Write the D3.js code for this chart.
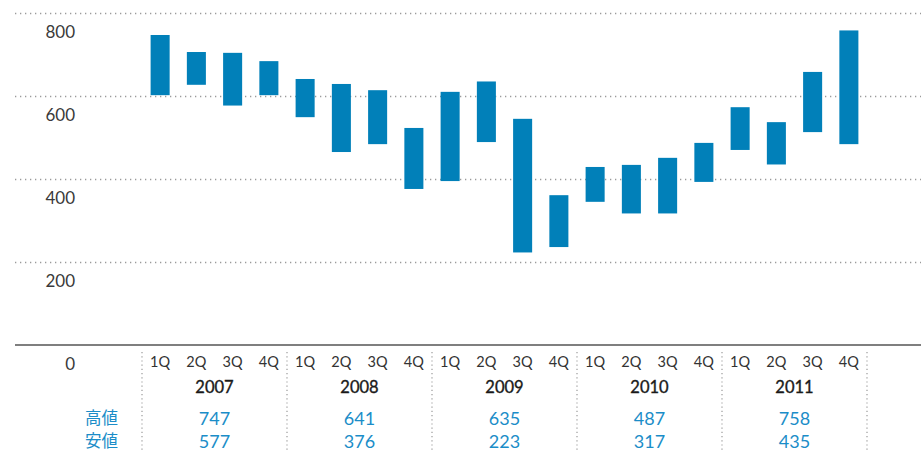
<!DOCTYPE html>
<html>
<head>
<meta charset="utf-8">
<script src="https://d3js.org/d3.v7.min.js"></script>
<style>
body { margin: 0; background: #fff; }
svg { display: block; font-family: "Lato", "Noto Sans CJK JP", sans-serif; }
</style>
</head>
<body>
<svg id="chart" width="921" height="452"></svg>
<script>
// quarterly high / low
var years = ["2007", "2008", "2009", "2010", "2011"];
var quarters = ["1Q", "2Q", "3Q", "4Q"];
var highs = [747, 706, 704, 684, 641, 629, 614, 523, 610, 635, 545, 361, 429, 434, 451, 487, 573, 537, 658, 758];
var lows  = [602, 627, 577, 602, 549, 465, 484, 376, 395, 489, 223, 236, 345, 317, 317, 393, 470, 435, 513, 484];
var yearHigh = [747, 641, 635, 487, 758];
var yearLow  = [577, 376, 223, 317, 435];
var yTicks = [0, 200, 400, 600, 800];

var svg = d3.select("#chart");
var blue = "#0180b9", textBlue = "#1b8dc8";

var y = d3.scaleLinear().domain([0, 800]).range([345, 13]);

// one key per quarter
var keys = [];
years.forEach(function (yr) { quarters.forEach(function (q) { keys.push(yr + "-" + q); }); });
var x = d3.scaleBand().domain(keys).range([142, 867]).paddingInner(0.475).paddingOuter(0.2375);
var xYear = d3.scaleBand().domain(years).range([142, 867]);

// grid lines
svg.append("g").selectAll("line")
    .data(yTicks.filter(function (d) { return d > 0; }))
    .enter().append("line")
    .attr("x1", 15).attr("x2", 921)
    .attr("y1", function (d) { return y(d) + 0.5; })
    .attr("y2", function (d) { return y(d) + 0.5; })
    .attr("stroke", "#9a9a9a")
    .attr("stroke-width", 1.3)
    .attr("stroke-dasharray", "1.3,3.7");

// y labels sit below their line
svg.append("g").selectAll("text")
    .data(yTicks)
    .enter().append("text")
    .attr("x", 75)
    .attr("y", function (d) { return y(d) + 25; })
    .attr("text-anchor", "end")
    .attr("fill", "#3a3a3a")
    .style("font-size", "17px")
    .text(function (d) { return d; });

// baseline
svg.append("line")
    .attr("x1", 15).attr("x2", 921)
    .attr("y1", y(0)).attr("y2", y(0))
    .attr("stroke", "#555").attr("stroke-width", 1.5);

// year dividers
var dividers = years.map(function (yr) { return xYear(yr); }).concat([867]);
svg.append("g").selectAll("line")
    .data(dividers)
    .enter().append("line")
    .attr("x1", function (d) { return d; })
    .attr("x2", function (d) { return d; })
    .attr("y1", 352).attr("y2", 452)
    .attr("stroke", "#9a9a9a")
    .attr("stroke-width", 1.2)
    .attr("stroke-dasharray", "1.2,3");

// bars
svg.append("g").selectAll("rect")
    .data(keys)
    .enter().append("rect")
    .attr("x", function (d) { return x(d); })
    .attr("width", x.bandwidth())
    .attr("y", function (d, i) { return y(highs[i]); })
    .attr("height", function (d, i) { return y(lows[i]) - y(highs[i]); })
    .attr("fill", blue);

// quarter labels
svg.append("g").selectAll("text")
    .data(keys)
    .enter().append("text")
    .attr("x", function (d) { return x(d) + x.bandwidth() / 2; })
    .attr("y", 367)
    .attr("text-anchor", "middle")
    .attr("fill", "#333")
    .style("font-size", "14.5px")
    .text(function (d) { return d.split("-")[1]; });

// year labels
svg.append("g").selectAll("text")
    .data(years)
    .enter().append("text")
    .attr("x", function (d) { return xYear(d) + xYear.bandwidth() / 2; })
    .attr("y", 393)
    .attr("text-anchor", "middle")
    .attr("fill", "#1a1a1a")
    .attr("stroke", "#1a1a1a")
    .attr("stroke-width", 0.35)
    .style("font-size", "16.5px")
    .text(function (d) { return d; });

// high / low rows
var rows = [{ label: "高値", vals: yearHigh, y: 425 }, { label: "安値", vals: yearLow, y: 448 }];
rows.forEach(function (r) {
    svg.append("text")
        .attr("x", 118).attr("y", r.y - 1)
        .attr("text-anchor", "end")
        .attr("fill", textBlue)
        .style("font-size", "16.5px")
        .style("font-family", "'Noto Sans CJK JP', sans-serif")
        .text(r.label);
    svg.append("g").selectAll("text")
        .data(r.vals)
        .enter().append("text")
        .attr("x", function (d, i) { return xYear(years[i]) + xYear.bandwidth() / 2; })
        .attr("y", r.y)
        .attr("text-anchor", "middle")
        .attr("fill", textBlue)
        .style("font-size", "18px")
        .text(function (d) { return d; });
});
</script>
</body>
</html>
